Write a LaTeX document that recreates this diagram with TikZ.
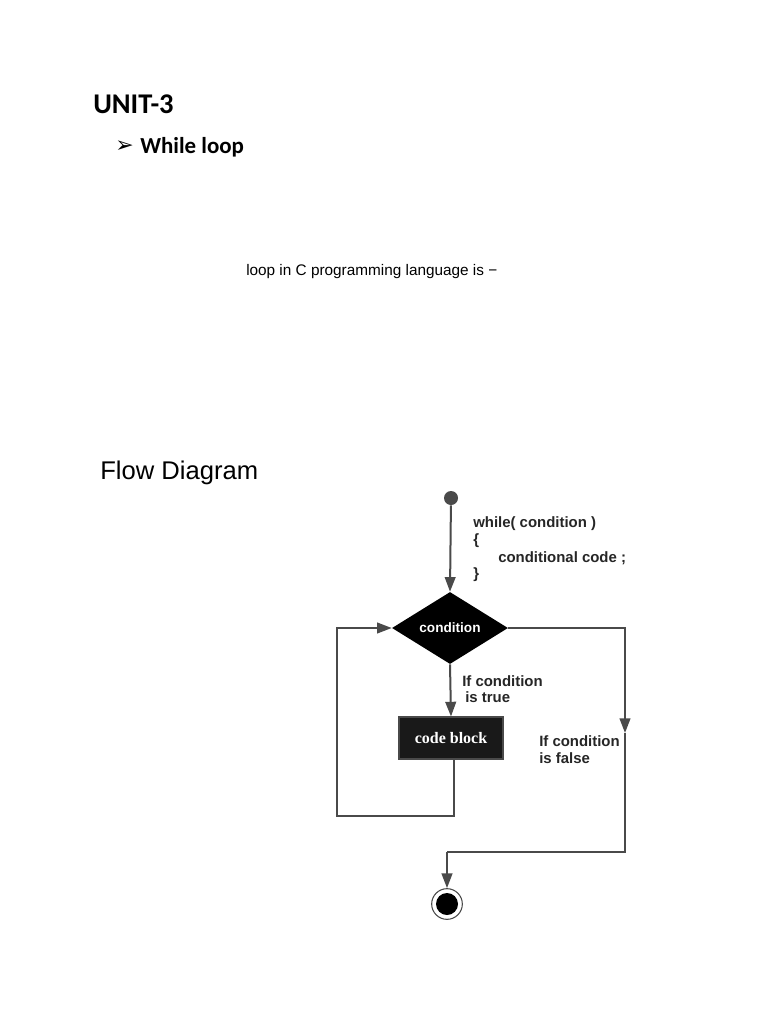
\documentclass[tikz,border=0pt]{standalone}
\usepackage{fontspec}
\setmainfont{Liberation Sans}
\newfontfamily\calib{Carlito}
\newfontfamily\djv{DejaVu Sans}
\newfontfamily\serifb{Liberation Serif}
\usetikzlibrary{shapes.geometric,arrows.meta}
\definecolor{ln}{HTML}{4A4A4A}
\tikzset{
  conn/.style={draw=ln, line width=1.5pt},
  arr/.style={conn, -{Triangle[length=11pt,width=8pt]}},
  lbl/.style={font=\fontsize{11.2}{13}\selectfont\bfseries, text=black!85, align=left, inner sep=0pt, anchor=west},
}
\begin{document}
\begin{tikzpicture}[x=0.75pt,y=-0.75pt]
\useasboundingbox[fill=white] (0,0) rectangle (768,1024);
% headings
\node[anchor=west, inner sep=0pt, font=\calib\bfseries\fontsize{21.4}{24}\selectfont] (unit) at (93,104) {UNIT-3};
\node[anchor=west, inner sep=0pt, font=\djv\fontsize{16.5}{18}\selectfont] (bul) at (115,147) {➢};
\node[anchor=west, inner sep=0pt, font=\calib\bfseries\fontsize{17.2}{20}\selectfont] (wl) at (140,147) {While loop};
\node[anchor=west, inner sep=0pt, font=\fontsize{11.5}{13}\selectfont] (txt) at (246,272) {loop in C programming language is −};
\node[anchor=west, inner sep=0pt, font=\fontsize{19.2}{22}\selectfont] (fd) at (100,473) {Flow Diagram};
% diagram
\node[circle, fill=ln, minimum size=10.5pt, inner sep=0pt] (start) at (451,498) {};
\node[diamond, fill=black, minimum width=87pt, minimum height=54pt, inner sep=0pt, text=white, font=\fontsize{10.2}{12}\selectfont\bfseries] (cond) at (450,628) {condition};
\node[rectangle, draw=ln, line width=0.8pt, fill=black!90, minimum width=78pt, minimum height=31.5pt, text=white, font=\serifb\bfseries\fontsize{12}{14}\selectfont] (code) at (451,738) {code block};
\node[circle, draw=ln, line width=0.8pt, fill=white, minimum size=23pt, inner sep=0pt] (endo) at (447,904) {};
\node[circle, fill=black, minimum size=16.5pt, inner sep=0pt] (endi) at (447,904) {};
% code text
\node[lbl] (c1) at (473,524) {while( condition )};
\node[lbl] (c2) at (473,541) {\{};
\node[lbl] (c3) at (498,558) {conditional code ;};
\node[lbl] (c4) at (473,575) {\}};
\node[lbl] (t1) at (462,681) {If condition};
\node[lbl] (t2) at (465,697) {is true};
\node[lbl] (f1) at (539,741) {If condition};
\node[lbl] (f2) at (539,758) {is false};
% connectors
\draw[arr] (start) -- (cond.north);
\draw[arr] (cond.south) -- (code.north);
\coordinate (r1) at (625,628);
\coordinate (r2) at (625,733);
\coordinate (r3) at (625,852);
\coordinate (r4) at (447,852);
\draw[arr] (cond.east) -- (r1) -- (r2);
\draw[conn] (r2) -- (r3) -- (r4);
\draw[arr] (r4) -- (endo.north);
\coordinate (l1) at (454,816);
\coordinate (l2) at (337,816);
\coordinate (l3) at (337,628);
\draw[arr] ([xshift=2.25pt]code.south) -- (l1) -- (l2) -- (l3) -- (cond.west);
\end{tikzpicture}
\end{document}
